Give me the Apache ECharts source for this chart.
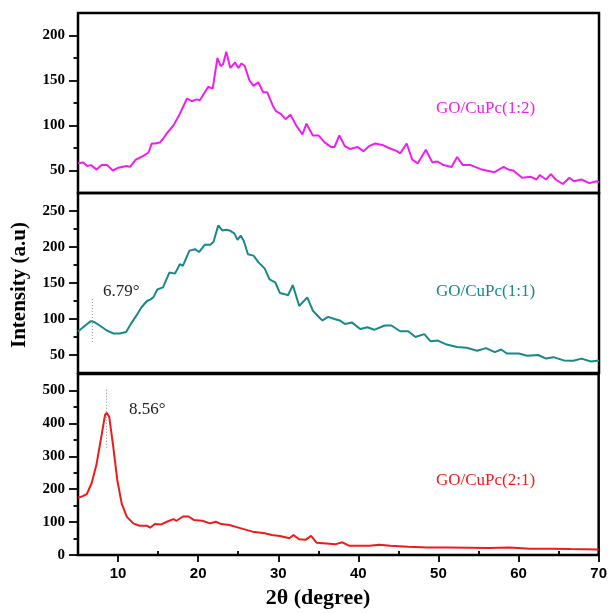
<!DOCTYPE html>
<html>
<head>
<meta charset="utf-8">
<script src="https://cdn.jsdelivr.net/npm/echarts@6/dist/echarts.min.js"></script>
<style>
html,body{margin:0;padding:0;background:#fff;}
#chart{width:610px;height:613px;}
</style>
</head>
<body>
<div id="chart"></div>
<script>
// ---- Data ----
const theta12 = [5,5.66,6.16,6.62,7.33,7.95,8.66,9.33,10.0,11.07,11.5,12.2,13.1,13.8,14.2,14.6,15.2,15.6,16.06,16.9,17.6,18.6,19.2,19.8,20.2,21.25,21.8,22.4,22.8,23.1,23.5,24.0,24.6,25.0,25.4,25.8,26.4,26.9,27.5,28.1,28.6,29.3,29.7,30.3,30.9,31.5,32.3,33.0,33.5,34.3,35.0,35.8,36.6,37.0,37.6,38.3,38.9,39.9,40.6,41.3,42.1,43.1,43.8,44.8,45.2,46.0,46.7,47.4,48.4,49.2,49.85,50.6,51.6,52.3,53.0,54.0,55.4,56.9,58.1,58.7,59.3,60.4,61.5,62.2,62.6,63.4,64.0,64.6,65.5,66.3,66.9,67.8,68.8,69.7,70];
const inten12 = [58,59,55,56,51,56,56,50,53,55,54,62,66,70,80,80,81,85,91,100,111,130,127,129,128,143,141,175,166,168,182,164,170,164,169,166,150,144,148,137,137,122,116,113,107,112,99,90,102,89,89,81,76,76,89,77,74,76,71.5,77,80,78,75,71.5,69,80,62,58,73,59,60,56,54,65,56,56,51,48,54,51,50,42,43,40,45,40,46,40,35,42,38,40,36,38,37];

const theta11 = [5,5.9,6.6,7.1,7.7,8.6,9.4,10.2,11.0,11.7,12.3,12.9,13.6,14.0,14.4,14.9,15.6,16.4,17.1,17.7,18.1,18.9,19.6,20.1,20.8,21.5,21.9,22.5,23.0,23.5,23.9,24.5,24.9,25.3,25.7,26.2,26.9,27.5,28.3,28.9,29.6,30.2,30.8,31.2,31.8,32.6,33.6,34.3,35.2,35.5,36.2,37.0,37.65,38.3,39.2,40.2,41.1,41.95,43.25,44.1,45.2,46.2,47.1,48.2,49.0,49.9,51.0,52.3,53.5,54.8,55.9,57.0,57.8,58.5,60.0,61.05,62.4,63.4,64.3,65.6,66.8,67.8,69.0,70];
const inten11 = [82.5,91,97,95.4,91,84,80,80,82,95,105,116,125,127,130,141,144,164.5,163,176,174,195,197,193,203,203,207,230,223,224,223,219,210,216,208,190,188,179,170,155,151,136,134.5,133,147,118,130,111.5,101,98,103,100,98,93,95,86,88.5,85,91,91,83,83,75,79,69,70,64.5,61,60,56,59.5,54,57.6,52,52,49,50,45,47,42.5,42,45,41,42.5];

const theta21 = [5,5.6,6.1,6.7,7.3,7.95,8.37,8.58,8.9,9.4,9.9,10.45,11.1,11.9,12.7,13.6,14.0,14.6,15.4,16.1,16.9,17.3,18.1,18.8,19.5,20.5,21.5,22.2,22.9,23.9,25.35,26.8,28.3,29.2,30.2,31.4,31.9,32.6,33.4,34.1,34.8,36.0,37.2,38.0,38.9,41.4,42.6,44.0,46.2,48.6,51.2,53.8,56.3,58.9,61.4,64.0,66.5,70];
const inten21 = [174,179,185,218,274,365,425,432,420,329,228,157,116,96,89,89,83,94,93,101,109,104,117,117,106,104,96,101,94,91,81,71,66,61,58,51,61,48,46,58,37,35,33,38.5,28,28,31,28,25,23,23,22,21,23,19,19,18,17];

// peak markers: [theta, from, to]
const peak11 = [6.79, 68, 129];
const peak21 = [8.56, 326, 504];

// tick values
const xMajor = [10,20,30,40,50,60,70];
const xMinor = [15,25,35,45,55,65];
const yMajorTop = [50,100,150,200];
const yMinorTop = [75,125,175];
const yMajorMid = [50,100,150,200,250];
const yMinorMid = [75,125,175,225];
const yMajorBot = [0,100,200,300,400,500];
const yMinorBot = [50,150,250,350,450];

const seriesNames = ['GO/CuPc(1:2)','GO/CuPc(1:1)','GO/CuPc(2:1)'];
const colors = ['#EE1FEE','#17898A','#EE1B1B'];

function zip(a,b){ return a.map((v,i)=>[v,b[i]]); }

const serif = 'Liberation Serif';
const sans = 'Liberation Sans';

const grids = [
  {left:78, right:11, top:13, height:180},
  {left:78, right:11, top:193, height:180},
  {left:78, right:11, top:374, height:181}
].map(g => Object.assign(g, {show:true, borderColor:'#000', borderWidth:2.5, backgroundColor:'transparent'}));

function xAx(gi, showIt, values, len, labels){
  return {
    type:'value', gridIndex:gi, min:5, max:70, show:showIt,
    axisLine:{show:false}, splitLine:{show:false},
    axisTick:{show:true, customValues:values, length:len, lineStyle:{color:'#000', width:1.8}},
    axisLabel:{show:labels, customValues:values, margin:11, color:'#000', fontFamily:sans, fontWeight:'bold', fontSize:15}
  };
}
function yAx(gi, min, max, values, len, labels){
  return {
    type:'value', gridIndex:gi, min:min, max:max, position:'left',
    axisLine:{show:false}, splitLine:{show:false},
    axisTick:{show:true, customValues:values, length:len, lineStyle:{color:'#000', width:1.8}},
    axisLabel:{show:labels, customValues:values, margin:13, color:'#000', fontFamily:serif, fontWeight:'bold', fontSize:15}
  };
}

const xAxis = [
  xAx(0,false,xMajor,7,false),
  xAx(1,false,xMajor,7,false),
  xAx(2,true,xMajor,7,true),
  xAx(2,true,xMinor,4,false)
];
const yAxis = [
  yAx(0,25,225,yMajorTop,9,true),
  yAx(0,25,225,yMinorTop,4.5,false),
  yAx(1,25,275,yMajorMid,9,true),
  yAx(1,25,275,yMinorMid,4.5,false),
  yAx(2,0,550,yMajorBot,9,true),
  yAx(2,0,550,yMinorBot,4.5,false)
];

function lineSeries(name, gi, yi, data, color){
  return {
    name:name, type:'line', xAxisIndex:gi, yAxisIndex:yi, data:data,
    showSymbol:false, symbol:'none', smooth:false, animation:false,
    lineStyle:{color:color, width:2}, z:3
  };
}
function peakSeries(gi, yi, p){
  return {
    type:'line', xAxisIndex:gi, yAxisIndex:yi,
    data:[[p[0],p[1]],[p[0],p[2]]], showSymbol:false, symbol:'none', animation:false,
    lineStyle:{color:'#888', width:1, type:[1,2]}, z:2, silent:true
  };
}

const series = [
  lineSeries(seriesNames[0],0,0,zip(theta12,inten12),colors[0]),
  lineSeries(seriesNames[1],1,2,zip(theta11,inten11),colors[1]),
  lineSeries(seriesNames[2],2,4,zip(theta21,inten21),colors[2]),
  peakSeries(1,2,peak11),
  peakSeries(2,4,peak21)
];

function txt(x,y,text,opts){
  return {type:'text', x:x, y:y, silent:true, z:10,
    style:Object.assign({text:text, fill:'#000', font:'17px "'+serif+'"', textAlign:'left', textVerticalAlign:'middle'}, opts||{})};
}

const graphic = [
  txt(485.5,109,seriesNames[0],{fill:colors[0], textAlign:'center'}),
  txt(485.5,292,seriesNames[1],{fill:colors[1], textAlign:'center'}),
  txt(485.5,481,seriesNames[2],{fill:colors[2], textAlign:'center'}),
  txt(103,292,peak11[0].toFixed(2)+'°',{fill:'#222'}),
  txt(129,410,peak21[0].toFixed(2)+'°',{fill:'#222'}),
  txt(318,598,'2θ (degree)',{font:'bold 22px "'+serif+'"', textAlign:'center'}),
  {type:'text', x:20, y:285, rotation:Math.PI/2, silent:true, z:10,
   style:{text:'Intensity (a.u)', fill:'#000', font:'bold 21px "'+serif+'"', textAlign:'center', textVerticalAlign:'middle'}}
];

const chart = echarts.init(document.getElementById('chart'), null, {renderer:'canvas'});
chart.setOption({
  backgroundColor:'#fff',
  animation:false,
  grid:grids,
  xAxis:xAxis,
  yAxis:yAxis,
  series:series,
  graphic:graphic
});
</script>
</body>
</html>
